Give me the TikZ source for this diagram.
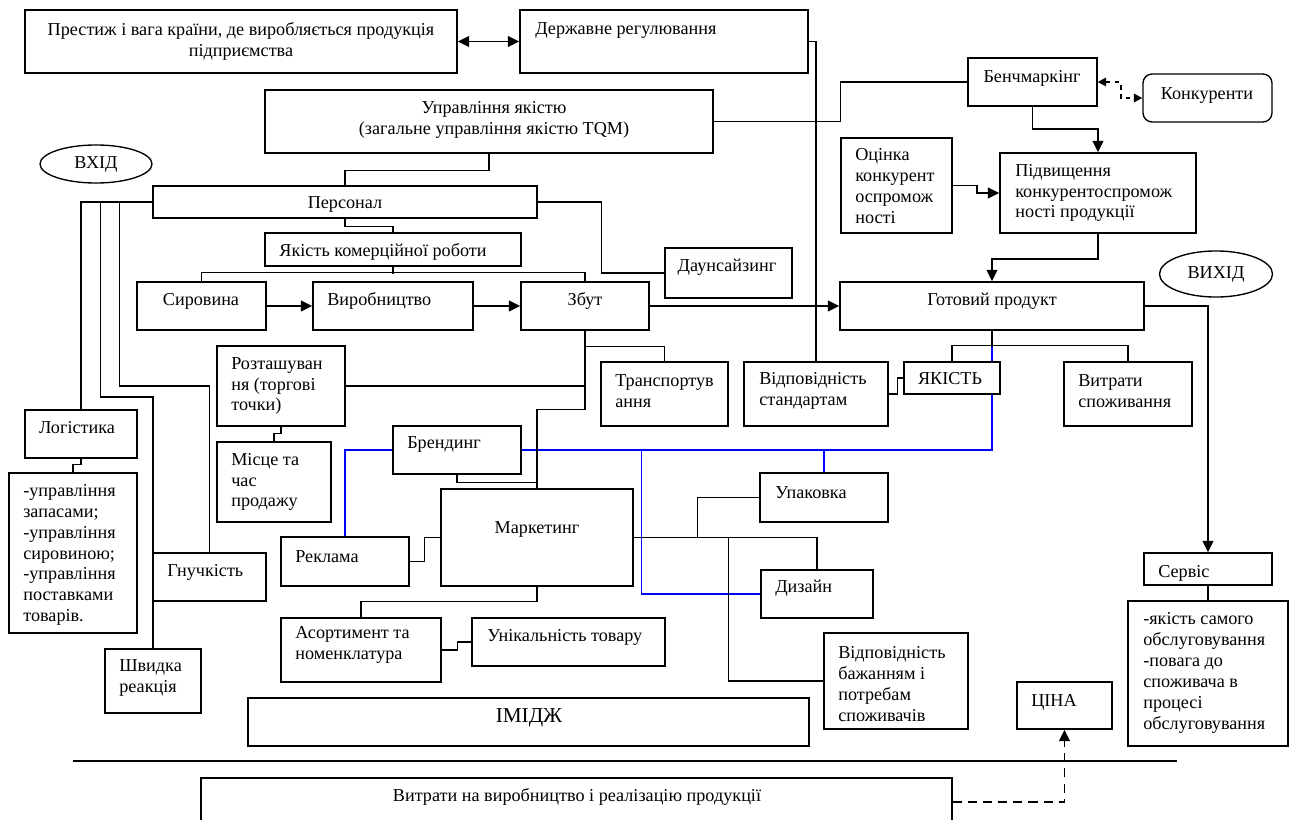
\documentclass[tikz,border=0pt]{standalone}
\usepackage{fontspec}
\setmainfont{Liberation Serif}
\usetikzlibrary{arrows.meta,fit,calc,shapes.geometric}
\begin{document}
\begin{tikzpicture}[x=0.66pt,y=-0.66pt,
  box/.style={draw, line width=0.9pt, inner sep=0pt, rectangle},
  oval/.style={draw, ellipse, line width=0.9pt, inner sep=0pt, font=\fontsize{12}{13.8}\selectfont},
  txt/.style={inner sep=0pt, font=\fontsize{12}{13.8}\selectfont, align=left},
  ln/.style={line width=0.8pt},
  tip/.style={-{Triangle[length=7.5pt,width=7pt]}},
  arr/.style={line width=1.3pt, tip},
  darr/.style={line width=1.2pt, dash pattern=on 3pt off 3pt, {Triangle[length=5.5pt,width=5.5pt]}-{Triangle[length=5.5pt,width=5.5pt]}},
  dash2/.style={line width=1.2pt, dash pattern=on 6pt off 4pt, tip},
  bl/.style={line width=0.9pt, draw=blue}]
\fill[white] (0,0) rectangle (1292,820);
\useasboundingbox (0,0) rectangle (1292,820);
\clip (0,0) rectangle (1292,820);

% boxes
\node[box, fit={(25,10) (457,73)}] (prest) {};
\node[box, fit={(520,10) (808,73)}] (derzh) {};
\node[box, fit={(265,90) (713,153)}] (upr) {};
\node[box, fit={(968,58) (1097,106)}] (bench) {};
\node[box, rounded corners=6pt, fit={(1143,74) (1272,122)}] (konk) {};
\node[box, fit={(841,138) (952,233)}] (ocin) {};
\node[box, fit={(1000,153) (1196,233)}] (pidv) {};
\node[oval, minimum width=73.9pt, minimum height=25.1pt] (vkhid) at (96,164) {ВХІД};
\node[box, fit={(153,186) (537,218)}] (pers) {};
\node[box, fit={(265,233) (521,266)}] (yakr) {};
\node[box, fit={(665,248) (792,298)}] (dauns) {};
\node[box, fit={(137,282) (266,330)}] (syr) {};
\node[box, fit={(313,282) (473,330)}] (vyr) {};
\node[box, fit={(521,282) (649,330)}] (zbut) {};
\node[box, fit={(840,282) (1144,330)}] (got) {};
\node[oval, minimum width=74.6pt, minimum height=30.4pt] (vykhid) at (1216,274) {ВИХІД};
\node[box, fit={(217,346) (345,426)}] (rozt) {};
\node[box, fit={(601,362) (728,426)}] (tran) {};
\node[box, fit={(744,362) (888,426)}] (vidst) {};
\node[box, fit={(904,362) (1000,394)}] (yak) {};
\node[box, fit={(1064,362) (1192,426)}] (vytr) {};
\node[box, fit={(25,410) (137,458)}] (log) {};
\node[box, fit={(9,473) (137,633)}] (logl) {};
\node[box, fit={(217,442) (331,522)}] (misc) {};
\node[box, fit={(393,426) (521,474)}] (brend) {};
\node[box, fit={(760,473) (888,522)}] (upak) {};
\node[box, fit={(281,537) (409,586)}] (rekl) {};
\node[box, fit={(441,489) (633,586)}] (mark) {};
\node[box, fit={(153,553) (266,601)}] (hnuch) {};
\node[box, fit={(761,570) (873,618)}] (diz) {};
\node[box, fit={(281,618) (441,682)}] (asort) {};
\node[box, fit={(472,618) (665,666)}] (unik) {};
\node[box, fit={(105,649) (201,713)}] (shv) {};
\node[box, fit={(824,633) (968,729)}] (vidb) {};
\node[box, fit={(1017,682) (1112,729)}] (tsina) {};
\node[box, fit={(248,698) (809,746)}] (imidzh) {};
\node[box, fit={(1144,553) (1272,585)}] (serv) {};
\node[box, fit={(1128,601) (1288,746)}] (servd) {};
\node[box, fit={(201,778) (952,826)}] (vytv) {};

% texts
\node[txt, align=center] (t1) at (241,41) {Престиж і вага країни, де виробляється продукція\\підприємства};
\node[txt, anchor=west] (t2) at (535,31) {Державне регулювання};
\node[txt, align=center] (t3) at (494,120) {Управління якістю\\(загальне управління якістю TQM)};
\node[txt] (t4) at (1032,78) {Бенчмаркінг};
\node[txt] (t5) at (1207,96) {Конкуренти};
\node[txt, anchor=west] (t6) at (855,186) {Оцінка\\конкурент\\оспромож\\ності};
\node[txt, anchor=west] (t7) at (1015,193) {Підвищення\\конкурентоспромож\\ності продукції};
\node[txt] (t9) at (345,204) {Персонал};
\node[txt] (t10) at (383,252) {Якість комерційної роботи};
\node[txt] (t11) at (727,267) {Даунсайзинг};
\node[txt] (t12) at (201,301) {Сировина};
\node[txt, anchor=west] (t13) at (327,301) {Виробництво};
\node[txt] (t14) at (585,301) {Збут};
\node[txt] (t15) at (992,301) {Готовий продукт};
\node[txt, anchor=west] (t17) at (231,386) {Розташуван\\ня (торгові\\точки)};
\node[txt, anchor=west] (t18) at (615,391) {Транспортув\\ання};
\node[txt, anchor=west] (t19) at (759,391) {Відповідність\\стандартам};
\node[txt] (t20) at (950,379) {ЯКІСТЬ};
\node[txt, anchor=west] (t21) at (1078,391) {Витрати\\споживання};
\node[txt] (t22) at (77,428) {Логістика};
\node[txt, anchor=west] (t23) at (23,555) {-управління\\запасами;\\-управління\\сировиною;\\-управління\\поставками\\товарів.};
\node[txt, anchor=west] (t24) at (231,482) {Місце та\\час\\продажу};
\node[txt, anchor=west] (t25) at (407,444) {Брендинг};
\node[txt, anchor=west] (t26) at (775,493) {Упаковка};
\node[txt, anchor=west] (t27) at (295,557) {Реклама};
\node[txt] (t28) at (537,529) {Маркетинг};
\node[txt, anchor=west] (t29) at (167,572) {Гнучкість};
\node[txt, anchor=west] (t30) at (775,588) {Дизайн};
\node[txt, anchor=west] (t31) at (295,645) {Асортимент та\\номенклатура};
\node[txt, anchor=west] (t32) at (487,637) {Унікальність товару};
\node[txt, anchor=west] (t33) at (119,678) {Швидка\\реакція};
\node[txt, anchor=west] (t34) at (838,684) {Відповідність\\бажанням і\\потребам\\споживачів};
\node[txt, anchor=west] (t35) at (1031,702) {ЦІНА};
\node[txt, font=\fontsize{14}{16}\selectfont] (t36) at (529,718) {ІМІДЖ};
\node[txt, anchor=west] (t37) at (1158,573) {Сервіс};
\node[txt, anchor=west] (t38) at (1143,673) {-якість самого\\обслуговування\\-повага до\\споживача в\\процесі\\обслуговування};
\node[txt] (t39) at (577,797) {Витрати на виробництво і реалізацію продукції};

% connectors
\draw[line width=1.3pt, {Triangle[length=7.5pt,width=7pt]}-{Triangle[length=7.5pt,width=7pt]}] (prest.east) -- (derzh.west);
\draw[ln] (derzh.east) -| (vidst.north);
\draw[ln] (upr.east) -- ++(127,0) |- (bench.west);
\draw[darr] (bench.east) -- ++(23,0) |- (konk.west);
\draw[arr] (bench.south) -- ++(0,22) -| (pidv.north);
\draw[arr] (ocin.east) -- ++(24,0) |- (pidv.west);
\draw[arr] (pidv.south) -- ++(0,25) -| (got.north);
\draw[arr] (got.east) -| (serv.north);
\draw[ln] (serv.south) -- (servd.north);
\draw[ln] (got.south) -- ++(0,16) coordinate (gb);
\draw[ln] (yak.north) -- ++(0,-16) -| (vytr.north);
\draw[bl] (gb) -- (got.south |- yak.north);
\draw[bl] (got.south |- yak.south) |- (brend.east);
\draw[bl] ($(brend.east)+(120,0)$) |- (diz.west);
\draw[bl] (upak.north) -- (upak.north |- brend.east);
\draw[bl] (brend.west) -| (rekl.north);
\draw[arr] (syr.east) -- (vyr.west);
\draw[arr] (vyr.east) -- (zbut.west);
\draw[arr] (zbut.east) -- (got.west);
\draw[ln] (yakr.south) -- ++(0,7);
\draw[ln] (syr.north) -- ++(0,-9) -| (zbut.north);
\draw[ln] (upr.south) -- ++(0,17) -| (pers.north);
\draw[ln] (pers.south) -- ++(0,8) -| (yakr.north);
\draw[ln] (pers.east) -- ++(64,0) |- (dauns.west);
\draw[line width=1.1pt] (pers.west) -| (log.north);
\draw[ln] ($(pers.west)+(-52,0)$) -- ++(0,195) -| (shv.north);
\draw[ln] ($(pers.west)+(-33,0)$) -- ++(0,184) -| (hnuch.north);
\draw[ln] (log.south) -- ++(0,6) -| (logl.north);
\draw[ln] (rozt.east) -- (rozt.east -| zbut.south);
\draw[ln] (zbut.south) -- ++(0,79) -| (mark.north);
\draw[ln] (tran.north) |- ($(zbut.south)+(0,16)$);
\draw[ln] (rozt.south) -- ++(0,7) -| (misc.north);
\draw[ln] (brend.south) -- ++(0,8) -| (mark.north);
\draw[ln] (rekl.east) -- ++(15,0) |- (mark.west);
\draw[ln] (mark.east) -| (diz.north);
\draw[ln] (upak.west) -| ($(mark.east)+(64,0)$);
\draw[ln] ($(mark.east)+(95,0)$) |- (vidb.west);
\draw[ln] (mark.south) -- ++(0,15) -| (asort.north);
\draw[ln] (asort.east) -- ++(16,0) |- (unik.west);
\draw[ln] (vidst.east) -- ++(9,0) |- (yak.west);
\draw[ln] (73,761) -- (1177,761);
\draw[dash2] (vytv.east) -| (tsina.south);
\end{tikzpicture}
\end{document}
